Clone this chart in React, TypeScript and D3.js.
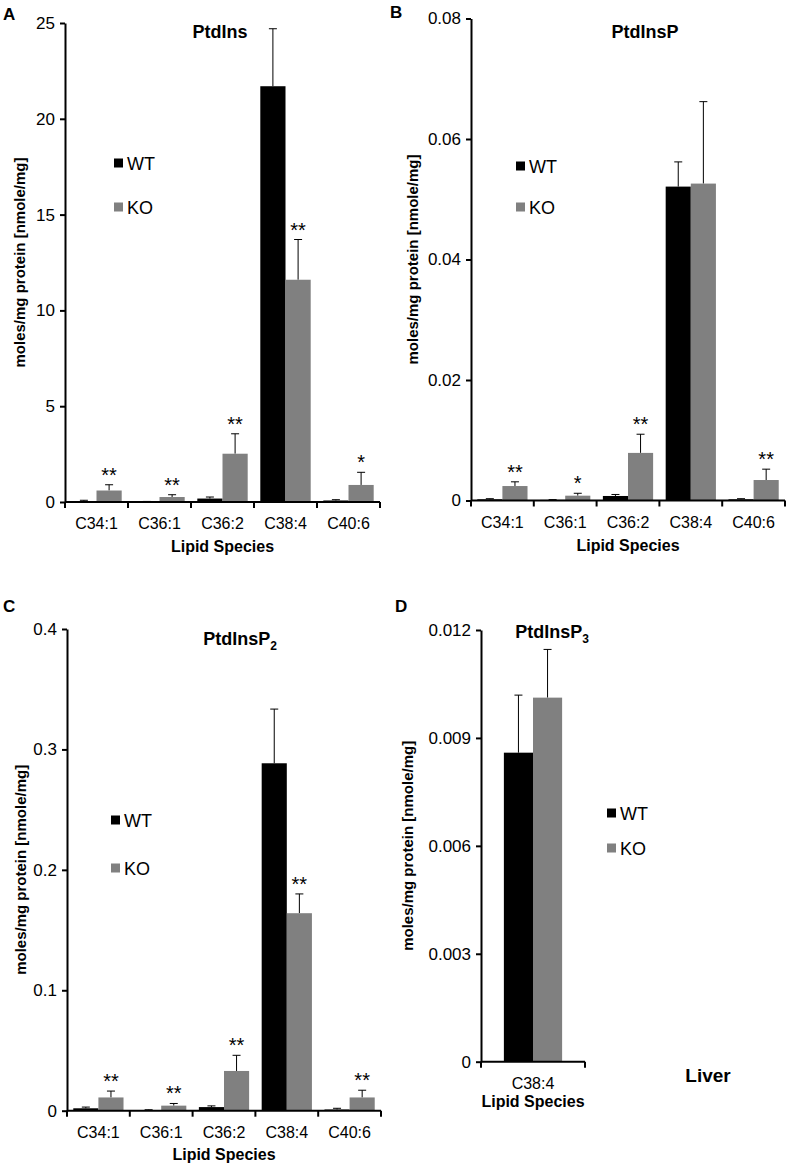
import React, { useEffect, useRef } from "react";
import * as d3 from "d3";

// lipid species on the x axis
const speciesMain = ["C34:1", "C36:1", "C36:2", "C38:4", "C40:6"];
const speciesP3 = ["C38:4"];
const groups = ["WT", "KO"];

// A - PtdIns
const ptdInsWT = [0.05, 0.02, 0.18, 21.7, 0.08];
const ptdInsWTsd = [0.04, 0.01, 0.08, 3.0, 0.04];
const ptdInsKO = [0.6, 0.26, 2.52, 11.6, 0.89];
const ptdInsKOsd = [0.3, 0.12, 1.04, 2.1, 0.66];
const ptdInsSig = ["**", "**", "**", "**", "*"];
const ptdInsTicks = [0, 5, 10, 15, 20, 25];

// B - PtdInsP
const ptdInsPWT = [0.0002, 0.0001, 0.00075, 0.0521, 0.0002];
const ptdInsPWTsd = [0.0001, 0.00005, 0.00025, 0.0041, 0.0001];
const ptdInsPKO = [0.0024, 0.0008, 0.0079, 0.0526, 0.0034];
const ptdInsPKOsd = [0.0007, 0.0004, 0.0031, 0.0136, 0.0018];
const ptdInsPSig = ["**", "*", "**", "", "**"];
const ptdInsPTicks = [0, 0.02, 0.04, 0.06, 0.08];

// C - PtdInsP2
const ptdInsP2WT = [0.002, 0.0005, 0.003, 0.2885, 0.001];
const ptdInsP2WTsd = [0.001, 0.0003, 0.001, 0.045, 0.001];
const ptdInsP2KO = [0.011, 0.0042, 0.033, 0.164, 0.011];
const ptdInsP2KOsd = [0.0053, 0.0018, 0.013, 0.016, 0.006];
const ptdInsP2Sig = ["**", "**", "**", "**", "**"];
const ptdInsP2Ticks = [0, 0.1, 0.2, 0.3, 0.4];

// D - PtdInsP3 (liver)
const ptdInsP3WT = [0.00859];
const ptdInsP3WTsd = [0.0016];
const ptdInsP3KO = [0.01012];
const ptdInsP3KOsd = [0.00134];
const ptdInsP3Sig = [""];
const ptdInsP3Ticks = [0, 0.003, 0.006, 0.009, 0.012];

const font = "'Liberation Sans', Arial, Helvetica, sans-serif";
const grey = "#808080";

function drawPanel(root: any, p: any) {
  const g = root.append("g");
  const y = d3.scaleLinear().domain([0, p.ticks[p.ticks.length - 1]]).range([p.bottom, p.top]);
  const x0 = d3
    .scaleBand()
    .domain(p.cats)
    .range([p.left, p.right])
    .paddingInner(p.padIn)
    .paddingOuter(p.padIn / 2);
  const x1 = d3.scaleBand().domain(groups).range([0, x0.bandwidth()]);

  // bars + error bars
  const series = [
    { key: "WT", vals: p.wt, sd: p.wtSd, fill: "#000" },
    { key: "KO", vals: p.ko, sd: p.koSd, fill: grey },
  ];
  series.forEach((s) => {
    p.cats.forEach((c: string, i: number) => {
      const bx = x0(c)! + x1(s.key)!;
      const bw = x1.bandwidth();
      const cx = bx + bw / 2;
      g.append("line")
        .attr("x1", cx)
        .attr("x2", cx)
        .attr("y1", y(s.vals[i]))
        .attr("y2", y(s.vals[i] + s.sd[i]))
        .attr("stroke", "#000")
        .attr("stroke-width", 1);
      g.append("line")
        .attr("x1", cx - 4)
        .attr("x2", cx + 4)
        .attr("y1", y(s.vals[i] + s.sd[i]))
        .attr("y2", y(s.vals[i] + s.sd[i]))
        .attr("stroke", "#000")
        .attr("stroke-width", 1);
      g.append("rect")
        .attr("x", bx)
        .attr("width", bw)
        .attr("y", y(s.vals[i]))
        .attr("height", y(0) - y(s.vals[i]))
        .attr("fill", s.fill);
    });
  });

  // significance stars over KO
  p.cats.forEach((c: string, i: number) => {
    if (!p.sig[i]) return;
    g.append("text")
      .attr("x", x0(c)! + x1("KO")! + x1.bandwidth() / 2)
      .attr("y", y(p.ko[i] + p.koSd[i]) - 3)
      .attr("text-anchor", "middle")
      .attr("font-size", 20)
      .attr("font-family", font)
      .text(p.sig[i]);
  });

  // y axis
  const yAxis = d3
    .axisLeft(y)
    .tickValues(p.ticks)
    .tickSize(5)
    .tickSizeOuter(0)
    .tickPadding(5)
    .tickFormat((d: any) => (d === 0 ? "0" : String(d)));
  const ya = g.append("g").attr("transform", `translate(${p.left},0)`).call(yAxis);
  ya.selectAll("text").attr("font-size", 17).attr("font-family", font).attr("fill", "#000");
  ya.selectAll("line,path").attr("stroke", "#000").attr("stroke-width", 2);

  // x axis with ticks between categories
  g.append("line")
    .attr("x1", p.left)
    .attr("x2", p.right)
    .attr("y1", y(0))
    .attr("y2", y(0))
    .attr("stroke", "#000")
    .attr("stroke-width", 2);
  const step = x0.step();
  d3.range(p.cats.length + 1).forEach((i) => {
    const tx = p.left + i * step;
    g.append("line")
      .attr("x1", tx)
      .attr("x2", tx)
      .attr("y1", y(0))
      .attr("y2", y(0) + 6)
      .attr("stroke", "#000")
      .attr("stroke-width", 2);
  });
  p.cats.forEach((c: string) => {
    g.append("text")
      .attr("x", x0(c)! + x0.bandwidth() / 2)
      .attr("y", y(0) + 27)
      .attr("text-anchor", "middle")
      .attr("font-size", 16)
      .attr("font-family", font)
      .text(c);
  });
  g.append("text")
    .attr("x", (p.left + p.right) / 2)
    .attr("y", y(0) + p.xTitleDy)
    .attr("text-anchor", "middle")
    .attr("font-size", 16)
    .attr("font-weight", "bold")
    .attr("font-family", font)
    .text("Lipid Species");

  // y title
  g.append("text")
    .attr("transform", `translate(${p.yTitleX},${(p.top + p.bottom) / 2}) rotate(-90)`)
    .attr("text-anchor", "middle")
    .attr("font-size", 15)
    .attr("font-weight", "bold")
    .attr("font-family", font)
    .text("moles/mg protein [nmole/mg]");

  // chart title
  const t = g
    .append("text")
    .attr("x", p.titleX)
    .attr("y", p.titleY)
    .attr("text-anchor", "middle")
    .attr("font-size", 18)
    .attr("font-weight", "bold")
    .attr("font-family", font)
    .text(p.title);
  if (p.sub) {
    t.append("tspan").attr("font-size", 12).attr("dy", 5).text(p.sub);
  }

  // panel letter
  g.append("text")
    .attr("x", p.letterX)
    .attr("y", p.letterY)
    .attr("font-size", 17)
    .attr("font-weight", "bold")
    .attr("font-family", font)
    .text(p.letter);

  // legend
  series.forEach((s, i) => {
    const ly = p.legY[i];
    g.append("rect")
      .attr("x", p.legX)
      .attr("y", ly - 4.5)
      .attr("width", 9)
      .attr("height", 9)
      .attr("fill", s.fill);
    g.append("text")
      .attr("x", p.legX + 13)
      .attr("y", ly + 6.5)
      .attr("font-size", 18)
      .attr("font-family", font)
      .text(s.key);
  });
}

export default function App() {
  const ref = useRef<SVGSVGElement>(null);

  useEffect(() => {
    const svg = d3.select(ref.current);
    svg.selectAll("*").remove();
    svg.append("rect").attr("width", 790).attr("height", 1170).attr("fill", "#fff");

    drawPanel(svg, {
      cats: speciesMain, wt: ptdInsWT, wtSd: ptdInsWTsd, ko: ptdInsKO, koSd: ptdInsKOsd,
      sig: ptdInsSig, ticks: ptdInsTicks,
      left: 65, right: 380, top: 23, bottom: 502, padIn: 0.2,
      title: "PtdIns", titleX: 220, titleY: 38, letter: "A", letterX: 3, letterY: 20,
      legX: 114, legY: [163, 207], yTitleX: 25, xTitleDy: 50,
    });
    drawPanel(svg, {
      cats: speciesMain, wt: ptdInsPWT, wtSd: ptdInsPWTsd, ko: ptdInsPKO, koSd: ptdInsPKOsd,
      sig: ptdInsPSig, ticks: ptdInsPTicks,
      left: 471, right: 785, top: 18.5, bottom: 500.5, padIn: 0.2,
      title: "PtdInsP", titleX: 645, titleY: 38, letter: "B", letterX: 390, letterY: 18,
      legX: 516, legY: [166, 207], yTitleX: 418, xTitleDy: 50,
    });
    drawPanel(svg, {
      cats: speciesMain, wt: ptdInsP2WT, wtSd: ptdInsP2WTsd, ko: ptdInsP2KO, koSd: ptdInsP2KOsd,
      sig: ptdInsP2Sig, ticks: ptdInsP2Ticks,
      left: 67, right: 381, top: 629, bottom: 1110.7, padIn: 0.2,
      title: "PtdInsP", sub: "2", titleX: 240, titleY: 645, letter: "C", letterX: 3, letterY: 612,
      legX: 111, legY: [820, 868], yTitleX: 26, xTitleDy: 49,
    });
    drawPanel(svg, {
      cats: speciesP3, wt: ptdInsP3WT, wtSd: ptdInsP3WTsd, ko: ptdInsP3KO, koSd: ptdInsP3KOsd,
      sig: ptdInsP3Sig, ticks: ptdInsP3Ticks,
      left: 481, right: 585, top: 630, bottom: 1061.7, padIn: 0.44,
      title: "PtdInsP", sub: "3", titleX: 552, titleY: 638, letter: "D", letterX: 395, letterY: 612,
      legX: 607, legY: [813, 848], yTitleX: 413, xTitleDy: 45,
    });

    svg.append("text")
      .attr("x", 708)
      .attr("y", 1082)
      .attr("text-anchor", "middle")
      .attr("font-size", 19)
      .attr("font-weight", "bold")
      .attr("font-family", font)
      .text("Liver");
  }, []);

  return (
    <svg
      ref={ref}
      width={790}
      height={1170}
      style={{ position: "absolute", left: 0, top: 0, display: "block" }}
    ></svg>
  );
}
